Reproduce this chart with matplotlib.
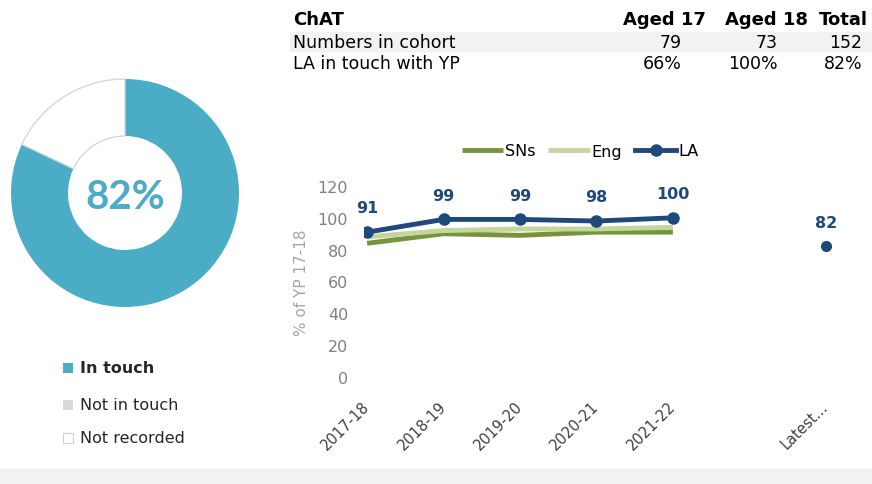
import matplotlib.pyplot as plt
from matplotlib.transforms import ScaledTranslation
import numpy as np

plt.rcParams['font.family'] = ['DejaVu Sans']

# donut data
donut_labels = ['In touch', 'Not in touch', 'Not recorded']
donut_values = [82, 0, 18]
donut_colors = ['#4BACC6', '#D9D9D9', '#FFFFFF']

# table data
table_cols = ['Aged 17', 'Aged 18', 'Total']
table_rows = ['Numbers in cohort', 'LA in touch with YP']
table_vals = [['79', '73', '152'], ['66%', '100%', '82%']]

# line chart data
years = ['2017-18', '2018-19', '2019-20', '2020-21', '2021-22', '', 'Latest...']
sns_vals = [84, 90, 89, 91, 91]
eng_vals = [88, 92, 93, 93, 94]
la_vals = [91, 99, 99, 98, 100]
la_latest = 82

W, H = 872, 485
fig = plt.figure(figsize=(W / 100, H / 100), dpi=100)
fig.patch.set_facecolor('white')

def fx(px):
    return px / W

def fy(py):
    return 1 - py / H

# bottom grey band
fig.patches.append(plt.Rectangle((0, 0), 1, 15 / H, transform=fig.transFigure,
                                 color='#F2F2F2', zorder=0))

# ---- donut ----
axd = fig.add_axes([fx(11), fy(194 + 114), fx(228), 228 / H])
wedges, _ = axd.pie(donut_values, colors=donut_colors, startangle=90, counterclock=False,
                    radius=1, wedgeprops=dict(width=0.5, linewidth=0))
wedges[2].set_edgecolor('#D6D6D6')
wedges[2].set_linewidth(1.0)
axd.set_xlim(-1.0, 1.0)
axd.set_ylim(-1.0, 1.0)
axd.set_aspect('equal')
axd.axis('off')
axd.text(0, -0.03, f'{donut_values[0]}%', ha='center', va='center', fontsize=29,
         fontweight='bold', color='#4BACC6', family=['Lato', 'DejaVu Sans'])

# donut legend
leg_y = [369, 406, 439]
for i, lab in enumerate(donut_labels):
    fig.patches.append(plt.Rectangle((fx(63), fy(leg_y[i] + 5)), fx(10), 10 / H,
                                     transform=fig.transFigure, facecolor=donut_colors[i],
                                     edgecolor='#D0D0D0' if i == 2 else 'none', lw=0.8))
    fig.text(fx(80), fy(leg_y[i]), lab, ha='left', va='center', fontsize=11.5,
             fontweight='bold' if i == 0 else 'normal', color='#262626')

# ---- table ----
fig.patches.append(plt.Rectangle((fx(290), fy(52)), fx(582), 19 / H,
                                 transform=fig.transFigure, color='#F2F2F2', zorder=0))
fig.text(fx(293), fy(20), 'ChAT', ha='left', va='center', fontsize=13, fontweight='bold', color='black')
col_x = [706, 808, 868]
for j, c in enumerate(table_cols):
    fig.text(fx(col_x[j]), fy(20), c, ha='right', va='center', fontsize=13,
             fontweight='bold', color='black')
row_y = [43, 64]
val_x = [682, 778, 862]
for i, r in enumerate(table_rows):
    fig.text(fx(293), fy(row_y[i]), r, ha='left', va='center', fontsize=12.5, color='black')
    for j in range(3):
        fig.text(fx(val_x[j]), fy(row_y[i]), table_vals[i][j], ha='right', va='center',
                 fontsize=12.5, color='black')

# ---- line chart ----
ax = fig.add_axes([fx(364), fy(378), fx(500), (378 - 187) / H])
x = np.arange(len(sns_vals))
ax.plot(x, sns_vals, color='#77933C', lw=3.5, label='SNs', solid_capstyle='butt')
ax.plot(x, eng_vals, color='#C3D69B', lw=3.5, label='Eng', solid_capstyle='butt')
ax.plot(x, la_vals, color='#1F497D', lw=3.5, marker='o', ms=8, label='LA')
ax.plot([len(years) - 1], [la_latest], 'o', color='#1F497D', ms=7)
for xi, v in zip(x, la_vals):
    ax.annotate(str(v), (xi, v), xytext=(0, 12), textcoords='offset points', ha='center',
                va='bottom', fontsize=11.5, fontweight='bold', color='#1F497D', annotation_clip=False)
ax.annotate(str(la_latest), (len(years) - 1, la_latest), xytext=(0, 12), textcoords='offset points',
            ha='center', va='bottom', fontsize=11.5, fontweight='bold', color='#1F497D')

ax.set_xlim(-0.04, len(years) - 0.5)
ax.set_ylim(0, 120)
ax.set_yticks(range(0, 121, 20))
ax.set_xticks(range(len(years)))
ax.set_xticklabels(years, rotation=45, ha='right', va='center', rotation_mode='anchor',
                   fontsize=10.5, color='#404040')
shift = ScaledTranslation(-0.08, 0, fig.dpi_scale_trans)
for lbl in ax.get_xticklabels():
    lbl.set_transform(lbl.get_transform() + shift)
ax.tick_params(axis='y', labelsize=11.5, labelcolor='#808080', length=0, pad=11.5)
ax.tick_params(axis='x', length=0, pad=19)
for s in ax.spines.values():
    s.set_visible(False)
ax.set_ylabel('% of YP 17-18', fontsize=11, color='#A6A6A6')
ax.yaxis.set_label_coords(-0.11, 0.5)

ax.legend(loc='center', bbox_to_anchor=(fx(580), fy(152)), bbox_transform=fig.transFigure,
          ncol=3, frameon=False, fontsize=11.5, handlelength=2.6, handletextpad=0.1,
          columnspacing=0.8)

fig.savefig('out.png', dpi=100, facecolor='white')
